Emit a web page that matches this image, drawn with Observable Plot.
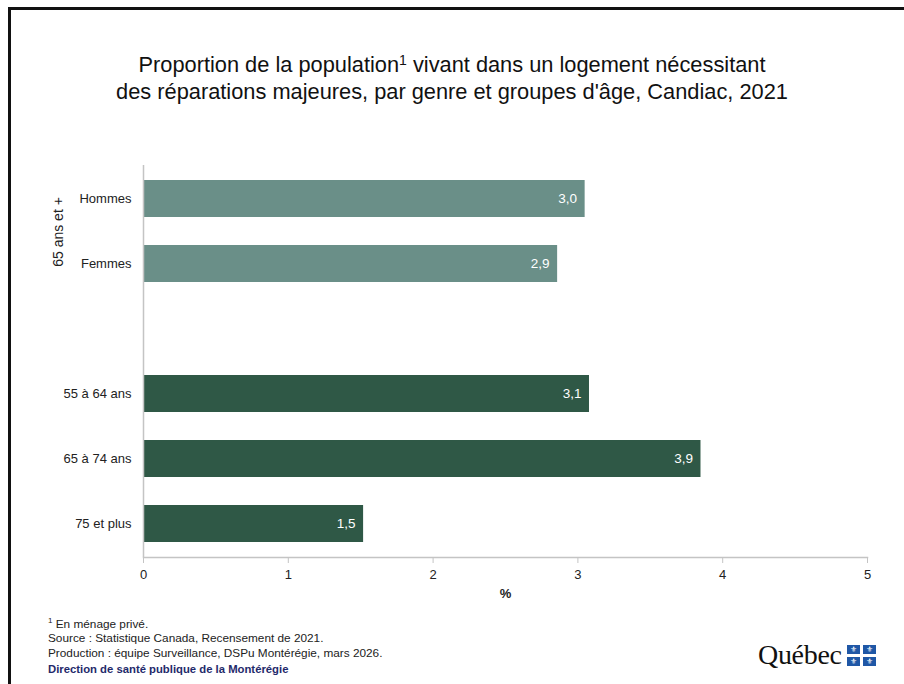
<!DOCTYPE html>
<html><head><meta charset="utf-8">
<script src="https://cdn.jsdelivr.net/npm/d3@7"></script>
<script src="https://cdn.jsdelivr.net/npm/@observablehq/plot@0.6"></script>
<style>
body{margin:0;background:#fff;font-family:"Liberation Sans",Arial,sans-serif;}
#wrap{position:relative;width:904px;height:684px;overflow:hidden;background:#fff;}
#border{position:absolute;left:8px;top:7px;right:-10px;bottom:-10px;border-top:3px solid #111;border-left:3px solid #111;}
#title{position:absolute;left:0;width:904px;top:51px;text-align:center;font-size:21.8px;line-height:27px;color:#111;}
#title sup{font-size:14px;vertical-align:7px;line-height:0;}
#chart{position:absolute;left:0;top:150px;}
#notes{position:absolute;left:48px;top:614px;font-size:11.8px;line-height:14.5px;color:#222;}
#notes .dir{font-family:"Liberation Sans Narrow",Arial,sans-serif;font-weight:bold;color:#1f2a6b;margin-top:2px;font-size:11.3px;}
#logo{position:absolute;left:758px;top:639px;display:flex;align-items:center;}
#logo span{font-family:"Liberation Serif","DejaVu Serif",serif;font-size:28px;color:#111;letter-spacing:-0.3px;}
#flag{display:grid;grid-template-columns:13px 13px;grid-gap:3px;margin-left:5px;}
#flag div{width:13px;height:9px;background:#1f57a6;color:#fff;font-size:8px;line-height:9px;text-align:center;}
</style></head>
<body><div id="wrap">
<div id="border"></div>
<div id="title">Proportion de la population<sup>1</sup> vivant dans un logement nécessitant<br>des réparations majeures, par genre et groupes d'âge, Candiac, 2021</div>
<div id="chart"></div>
<div id="notes"><div><sup style="font-size:8px">1</sup> En ménage privé.</div><div>Source : Statistique Canada, Recensement de 2021.</div><div>Production : équipe Surveillance, DSPu Montérégie, mars 2026.</div><div class="dir">Direction de santé publique de la Montérégie</div></div>
<div id="logo"><span>Québec</span><div id="flag"><div>⚜</div><div>⚜</div><div>⚜</div><div>⚜</div></div></div>
</div>
<script>
const categories = ["Hommes","Femmes","","55 à 64 ans","65 à 74 ans","75 et plus"];
const groups = ["sexe","sexe","vide","age","age","age"];
const values = [3.05, 2.86, null, 3.08, 3.85, 1.52];
const labels = ["3,0","2,9","","3,1","3,9","1,5"];
const xTicks = [0,1,2,3,4,5];
const xTitle = "%";
const groupLabel = "65 ans et +";

const data = categories.map((c,i)=>({cat:c, group:groups[i], value:values[i], label:labels[i]})).filter(d=>d.value!=null);
const colors = {sexe:"#6a8f88", age:"#2f5846"};

const chart = Plot.plot({
  width:904, height:470,
  marginLeft:143, marginRight:37, marginTop:15, marginBottom:63,
  style:{fontFamily:"'Liberation Sans',Arial,sans-serif", fontSize:"13px", color:"#222", background:"transparent"},
  x:{domain:[0,5]},
  y:{domain:categories, paddingInner:0.43, paddingOuter:0.215},
  marks:[
    Plot.barX(data,{x:"value", y:"cat", fill:d=>colors[d.group]}),
    Plot.text(data,{x:"value", y:"cat", text:"label", textAnchor:"end", dx:-8, fill:"white", fontSize:13.5}),
    Plot.ruleX([0],{stroke:"#c4c4c4", strokeWidth:1.5}),
    Plot.frame({anchor:"bottom", stroke:"#c4c4c4", strokeWidth:1.5}),
    Plot.axisY({tickSize:0, tickPadding:12, fontSize:13, tickFormat:d=>d, fill:"#222", label:null}),
    Plot.axisX({ticks:xTicks, tickSize:6, stroke:"#c4c4c4", fill:"#222", fontSize:13, tickPadding:6, tickFormat:d=>String(d), label:null}),
    Plot.text([xTitle],{text:d=>d, frameAnchor:"bottom", dy:40, fontSize:13, fill:"#222", fontWeight:"bold"}),
    Plot.text([groupLabel],{y:()=>categories[0], text:d=>d, frameAnchor:"left", textAnchor:"middle", dx:-85, dy:33, rotate:-90, fontSize:14, fill:"#222"})
  ]
});
document.getElementById("chart").appendChild(chart);
</script>
</body></html>
